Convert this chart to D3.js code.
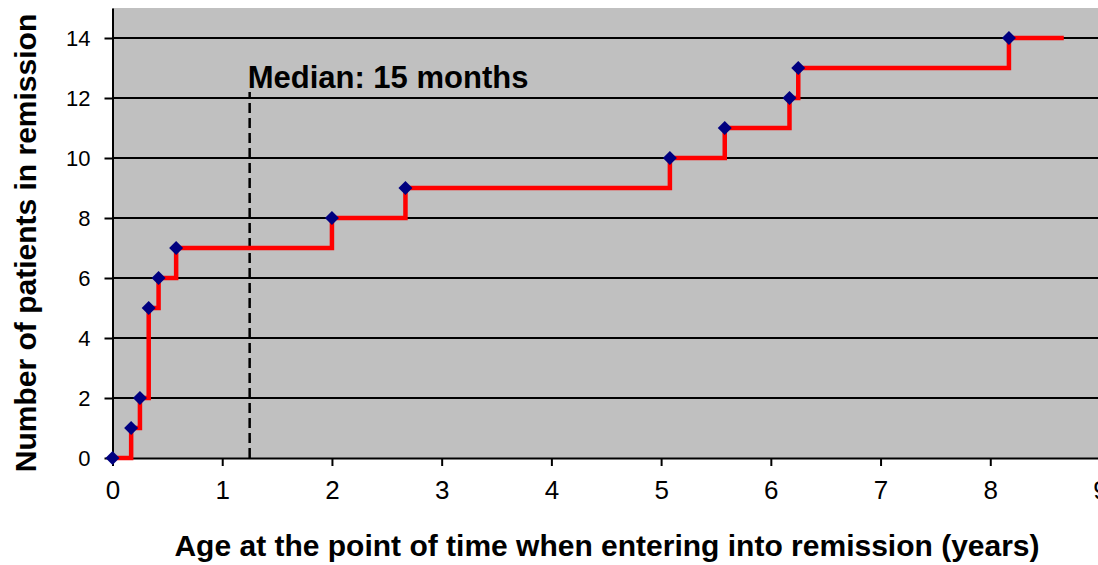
<!DOCTYPE html>
<html>
<head>
<meta charset="utf-8">
<script src="https://cdn.jsdelivr.net/npm/d3@7"></script>
<style>
  body { margin: 0; background: #fff; }
  svg text { font-family: "Liberation Sans", Arial, sans-serif; fill: #000; }
</style>
</head>
<body>
<div id="chart"></div>
<script>
// age (years) at which each patient entered remission, and cumulative count
var ages     = [0, 0.17, 0.25, 0.33, 0.42, 0.58, 2.0, 2.67, 5.08, 5.58, 6.17, 6.25, 8.17];
var patients = [0, 1, 2, 5, 6, 7, 8, 9, 10, 11, 12, 13, 14];
var lineEndAge = 8.67;          // the step line keeps going after the last patient
var medianAge = 1.25;           // 15 months
var medianTop = 12.2;
var xTicks = [0, 1, 2, 3, 4, 5, 6, 7, 8, 9];
var yTicks = [0, 2, 4, 6, 8, 10, 12, 14];

var W = 1098, H = 565;

var svg = d3.select("#chart")
    .append("svg")
      .attr("width", W)
      .attr("height", H);

var x = d3.scaleLinear()
    .domain([0, 9])
    .range([112.5, 1100]);

var y = d3.scaleLinear()
    .domain([0, 15])
    .range([458, 8]);

// grey plot area
svg.append("rect")
    .attr("x", x(0))
    .attr("y", y(15))
    .attr("width", W - x(0))
    .attr("height", y(0) - y(15))
    .attr("fill", "#c0c0c0");

// horizontal grid lines
svg.append("g")
    .selectAll("line")
    .data(yTicks.filter(function(d) { return d > 0; }))
    .enter()
    .append("line")
      .attr("x1", x(0))
      .attr("x2", W)
      .attr("y1", function(d) { return y(d); })
      .attr("y2", function(d) { return y(d); })
      .attr("stroke", "#000")
      .attr("stroke-width", 2);

// y axis
var yAxis = svg.append("g")
    .attr("transform", "translate(" + x(0) + ",0)")
    .call(d3.axisLeft(y).tickValues(yTicks).tickSize(8).tickPadding(14).tickSizeOuter(0));
yAxis.select(".domain").attr("stroke-width", 2);
yAxis.selectAll(".tick line").attr("stroke-width", 2);
yAxis.selectAll("text")
    .style("font-size", "22px")
    .attr("dy", "0.36em");

// x axis
var xAxis = svg.append("g")
    .attr("transform", "translate(0," + y(0) + ")")
    .call(d3.axisBottom(x).tickValues(xTicks).tickSize(8).tickPadding(15).tickSizeOuter(0));
xAxis.select(".domain").attr("stroke-width", 2);
xAxis.selectAll(".tick line").attr("stroke-width", 2);
xAxis.selectAll("text")
    .style("font-size", "26px");

// median marker
svg.append("line")
    .attr("x1", x(medianAge))
    .attr("x2", x(medianAge))
    .attr("y1", y(0))
    .attr("y2", y(medianTop))
    .attr("stroke", "#000")
    .attr("stroke-width", 2.5)
    .attr("stroke-dasharray", "10,5");

svg.append("text")
    .attr("x", x(medianAge) - 2)
    .attr("y", 88)
    .attr("font-weight", 700)
    .style("font-size", "31px")
    .text("Median: 15 months");

// step line
var data = ages.map(function(a, i) { return {age: a, n: patients[i]}; });
var lineData = data.concat([{age: lineEndAge, n: patients[patients.length - 1]}]);

svg.append("path")
    .datum(lineData)
    .attr("d", d3.line()
      .curve(d3.curveStepAfter)
      .x(function(d) { return x(d.age); })
      .y(function(d) { return y(d.n); })
    )
    .attr("fill", "none")
    .attr("stroke", "#ff0000")
    .attr("stroke-width", 4.5);

// diamond markers
svg.append("g")
    .selectAll("path")
    .data(data)
    .enter()
    .append("path")
      .attr("transform", function(d) { return "translate(" + x(d.age) + "," + y(d.n) + ")"; })
      .attr("d", "M0,-7L7,0L0,7L-7,0Z")
      .attr("fill", "#000080");

// axis titles
svg.append("text")
    .attr("transform", "translate(36," + 243 + ") rotate(-90)")
    .attr("text-anchor", "middle")
    .attr("font-weight", 700)
    .style("font-size", "30px")
    .text("Number of patients in remission");

svg.append("text")
    .attr("x", 607)
    .attr("y", 556)
    .attr("text-anchor", "middle")
    .attr("font-weight", 700)
    .style("font-size", "30px")
    .text("Age at the point of time when entering into remission (years)");
</script>
</body>
</html>
